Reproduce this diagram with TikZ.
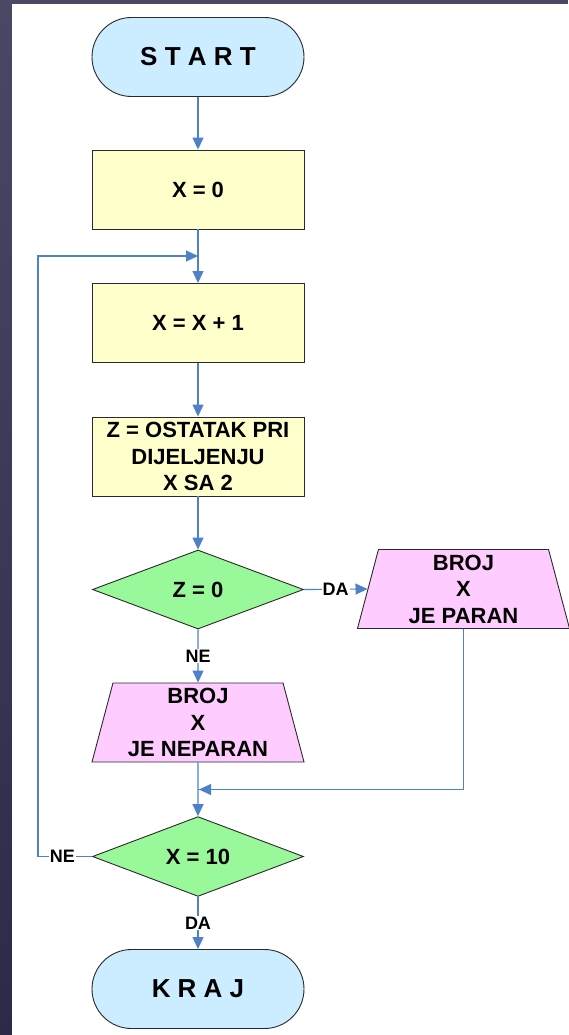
\documentclass[tikz,border=0pt]{standalone}
\usepackage{fontspec}
\setmainfont{Liberation Sans}
\usetikzlibrary{arrows.meta,shapes.geometric,calc}

\definecolor{frametop}{HTML}{4A4864}
\definecolor{framebot}{HTML}{2C2A48}
\definecolor{pillfill}{HTML}{CCECFF}
\definecolor{boxfill}{HTML}{FFFFCC}
\definecolor{decfill}{HTML}{99F899}
\definecolor{iofill}{HTML}{FFCCFF}
\definecolor{flowblue}{HTML}{4F81C8}
\definecolor{edge}{HTML}{2A2A2A}

\tikzset{
  txt/.style={font=\fontsize{22}{26.5}\selectfont\bfseries},
  terminal/.style={draw=edge,fill=pillfill,line width=0.9pt,rounded corners=39.5pt,
    minimum width=212pt,minimum height=79pt,font=\fontsize{26}{30}\selectfont\bfseries},
  proc/.style={txt,draw=edge,fill=boxfill,line width=0.9pt,
    minimum width=212pt,minimum height=79pt,align=center,inner sep=1pt},
  decis/.style={txt,diamond,draw=edge,fill=decfill,line width=0.9pt,
    minimum width=211pt,minimum height=79pt,inner sep=0pt},
  io/.style={txt,trapezium,trapezium stretches body,trapezium left angle=73,trapezium right angle=73,
    draw=edge,fill=iofill,line width=0.9pt,minimum width=212pt,minimum height=79pt,align=center,inner sep=0pt},
  flow/.style={draw=flowblue,line width=1.2pt,-{Triangle[length=12pt,width=11pt]}},
  line/.style={draw=flowblue,line width=1.2pt},
  lbl/.style={fill=white,inner sep=1pt,font=\fontsize{18}{20}\selectfont\bfseries}
}

\begin{document}
\begin{tikzpicture}[x=1pt,y=-1pt]
\useasboundingbox (0,0) rectangle (568,1035);

% background frame
\shade[top color=frametop,bottom color=framebot] (0,0) rectangle (12,1035);
\fill[frametop] (0,0) rectangle (568,4);
\fill[white] (12,4) rectangle (568,1035);

% nodes
\node[terminal] (start) at (198,57) {S T A R T};
\node[proc] (x0) at (198,189.5) {X = 0};
\node[proc] (inc) at (198,323) {X = X + 1};
\node[proc] (ost) at (198,456.5) {Z = OSTATAK PRI\\DIJELJENJU\\X SA 2};
\node[decis] (zdec) at (198,589.5) {Z = 0};
\node[io] (par) at (463.5,589) {BROJ\\X\\JE PARAN};
\node[io] (nepar) at (198,722.5) {BROJ\\X\\JE NEPARAN};
\node[decis] (xdec) at (198,856.5) {X = 10};
\node[terminal] (kraj) at (198,989) {K R A J};

\coordinate (loopin) at (198,256);
\coordinate (joinin) at (198,789.5);

% connectors
\draw[flow] (start) -- (x0);
\draw[flow] (x0) -- (inc);
\draw[flow] (inc) -- (ost);
\draw[flow] (ost) -- (zdec);
\draw[flow] (zdec.east) -- node[lbl] {DA} (par.west);
\draw[flow] (zdec.south) -- node[lbl] {NE} (nepar.north);
\draw[line] (par.south) |- (joinin);
\draw[flow] ($(joinin)+(2,0)$) -- ($(joinin)+(1,0)$);
\draw[flow] (nepar) -- (xdec);
\draw[flow] (xdec.west) -- node[lbl,pos=0.55] {NE} ++(-54,0) |- (loopin);
\draw[flow] (xdec.south) -- node[lbl] {DA} (kraj.north);
\end{tikzpicture}
\end{document}
